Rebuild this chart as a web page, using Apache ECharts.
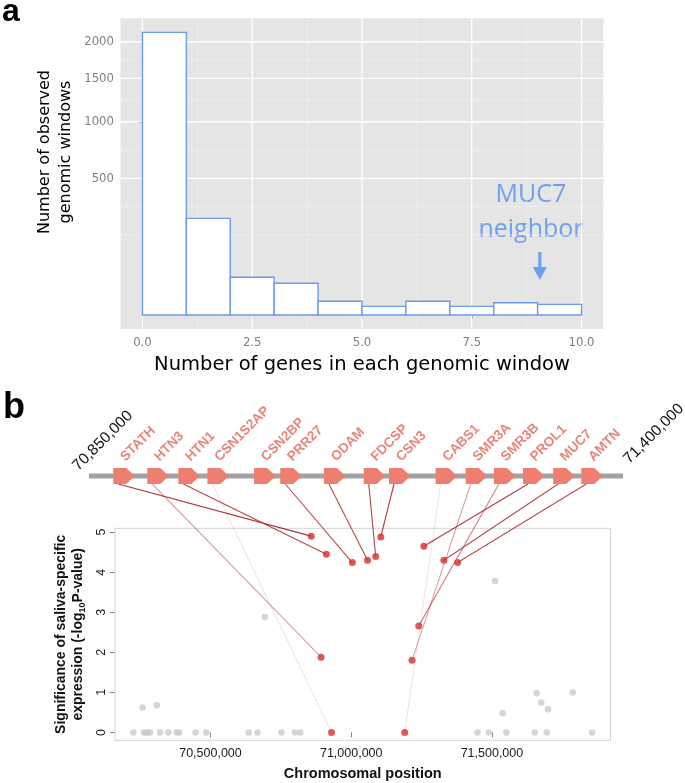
<!DOCTYPE html>
<html><head><meta charset="utf-8">
<script src="https://cdn.jsdelivr.net/npm/echarts@6.0.0/dist/echarts.min.js"></script>
<style>html,body{margin:0;padding:0;background:#fff}#c{width:685px;height:783px}</style>
</head><body><div id="c"></div><script>
// ---------- Panel a : histogram ----------
const binStarts = [0, 1, 2, 3, 4, 5, 6, 7, 8, 9];
const binWidth = 1;
const windowCounts = [2140, 250, 38, 27, 5, 2, 5, 2, 4, 3];
const histXTicks = [0, 2.5, 5, 7.5, 10];
const histXMinor = [1.25, 3.75, 6.25, 8.75];
const histYTicks = [500, 1000, 1500, 2000];

// ---------- Panel b : gene track + scatter ----------
const geneNames = ['STATH','HTN3','HTN1','CSN1S2AP','CSN2BP','PRR27','ODAM','FDCSP','CSN3','CABS1','SMR3A','SMR3B','PROL1','MUC7','AMTN'];
const geneTrackPos = [70875000, 70910000, 70942000, 70972000, 71020000, 71047000, 71092000, 71133000, 71159000, 71207000, 71238000, 71267000, 71297000, 71328000, 71357000];
const trackRange = [70850000, 71400000];
const trackLabels = ['70,850,000', '71,400,000'];
const genePointPos = [70858000, 70893000, 70912000, 70930000, null, 71004000, 71058000, 71087000, 71105000, 71190000, 71216000, 71240000, 71258000, 71329000, 71378000];
const genePointSig = [4.90, 1.88, 4.45, 0, null, 4.24, 4.30, 4.39, 4.88, 0, 1.80, 2.66, 4.65, 4.30, 4.24];
const otherPos = [70226000, 70259000, 70264000, 70271000, 70278000, 70285000, 70309000, 70321000, 70350000, 70380000, 70389000, 70447000, 70485000, 70636000, 70667000, 70693000, 70752000, 70800000, 70819000,
                  71449000, 71489000, 71511000, 71538000, 71551000, 71652000, 71659000, 71675000, 71695000, 71699000, 71787000, 71856000];
const otherSig = [0, 0.62, 0, 0, 0, 0, 0.68, 0, 0, 0, 0, 0, 0, 0, 0, 2.88, 0, 0, 0,
                  0, 0, 3.78, 0.48, 0, 0, 0.98, 0.75, 0, 0.58, 1.0, 0];
const posTicks = [70500000, 71000000, 71500000];
const sigTicks = [0, 1, 2, 3, 4, 5];

// ---------- derived scales ----------
const sq = Math.sqrt;
const maxC = Math.max(...windowCounts);
const yHi = sq(maxC) * 1.05, yLo = -sq(maxC) * 0.05;
const majT = histYTicks.map(sq);
const bd = majT[1] - majT[0];
const extT = [majT[0] - bd, ...majT, majT[majT.length - 1] + bd];
const minT = [];
for (let i = 0; i < extT.length - 1; i++) {
  if (i === 0) minT.push(extT[0]);
  minT.push((extT[i] + extT[i + 1]) / 2);
}
const minTv = minT.filter(v => v > yLo && v < yHi);

const allX = otherPos.concat(genePointPos.filter(v => v != null));
const allY = otherSig.concat(genePointSig.filter(v => v != null));
const xMin = Math.min(...allX), xMax = Math.max(...allX);
const yMin = Math.min(...allY), yMax = Math.max(...allY);
const sx0 = xMin - 0.04 * (xMax - xMin), sx1 = xMax + 0.04 * (xMax - xMin);
const sy0 = yMin - 0.04 * (yMax - yMin), sy1 = yMax + 0.04 * (yMax - yMin);

const gridData = [];
histXTicks.forEach(v => gridData.push(['x', v, 1]));
histXMinor.forEach(v => gridData.push(['x', v, 0]));
majT.forEach(v => gridData.push(['y', v, 1]));
minTv.forEach(v => gridData.push(['y', v, 0]));

const tickFont = "'Liberation Sans Narrow','DejaVu Sans Condensed',sans-serif";

const chart = echarts.init(document.getElementById('c'), null, { renderer: 'canvas' });
const option = {
  animation: false,
  backgroundColor: '#ffffff',
  grid: [
    { left: 120.5, top: 18.2, width: 483, height: 310.9, show: true, backgroundColor: '#e5e5e5', borderWidth: 0 },
    { left: 89, top: 467.5, width: 534, height: 17, show: false },
    { left: 115, top: 528.3, width: 495.5, height: 212, show: true, backgroundColor: 'transparent', borderColor: '#d4d4d4', borderWidth: 1 }
  ],
  xAxis: [
    { gridIndex: 0, type: 'value', min: -0.5, max: 10.5,
      axisLine: { show: false }, splitLine: { show: false },
      axisTick: { show: true, customValues: histXTicks, length: 4, lineStyle: { color: '#7f7f7f' } },
      axisLabel: { customValues: histXTicks, formatter: v => v.toFixed(1), color: '#7f7f7f', fontSize: 13, margin: 7, fontFamily: tickFont },
      name: 'Number of genes in each genomic window', nameLocation: 'middle', nameGap: 26,
      nameTextStyle: { fontSize: 19.5, color: '#000', fontFamily: "'DejaVu Sans',sans-serif" } },
    { gridIndex: 1, type: 'value', min: trackRange[0], max: trackRange[1], show: false },
    { gridIndex: 2, type: 'value', min: sx0, max: sx1,
      axisLine: { show: false }, splitLine: { show: false },
      axisTick: { show: true, customValues: posTicks, length: 5, lineStyle: { color: '#8a8a8a' } },
      axisLabel: { customValues: posTicks, formatter: v => Math.round(v).toLocaleString('en-US'), color: '#1a1a1a', fontSize: 12.5, margin: 7, fontFamily: "'Liberation Sans',Arial,sans-serif" },
      name: 'Chromosomal position', nameLocation: 'middle', nameGap: 26,
      nameTextStyle: { fontSize: 14.5, fontWeight: 'bold', color: '#111', fontFamily: "'Liberation Sans',Arial,sans-serif" } }
  ],
  yAxis: [
    { gridIndex: 0, type: 'value', min: yLo, max: yHi,
      axisLine: { show: false }, splitLine: { show: false },
      axisTick: { show: true, customValues: majT, length: 4, lineStyle: { color: '#7f7f7f' } },
      axisLabel: { customValues: majT, formatter: v => String(Math.round(v * v)), color: '#7f7f7f', fontSize: 13, margin: 6.5, fontFamily: tickFont } },
    { gridIndex: 1, type: 'value', min: 0, max: 1, show: false },
    { gridIndex: 2, type: 'value', min: sy0, max: sy1,
      axisLine: { show: false }, splitLine: { show: false },
      axisTick: { show: true, customValues: sigTicks, length: 5, lineStyle: { color: '#8a8a8a' } },
      axisLabel: { customValues: sigTicks, rotate: 90, color: '#1a1a1a', fontSize: 12.5, margin: 7, fontFamily: "'Liberation Sans',Arial,sans-serif" },
      name: 'Significance of saliva-specific\nexpression (-log{sub|10}P-value)', nameLocation: 'middle', nameGap: 22,
      nameTextStyle: { fontSize: 14, fontWeight: 'bold', color: '#111', lineHeight: 17, fontFamily: "'Liberation Sans',Arial,sans-serif",
        rich: { sub: { fontSize: 9, fontWeight: 'bold', color: '#111', verticalAlign: 'bottom', fontFamily: "'Liberation Sans',Arial,sans-serif" } } } }
  ],
  series: [
    { // panel background grid lines (ggplot style)
      type: 'custom', xAxisIndex: 0, yAxisIndex: 0, z: 1, silent: true,
      data: gridData,
      renderItem: function (params, api) {
        const d = gridData[params.dataIndex];
        const cs = params.coordSys;
        const major = d[2] === 1;
        const style = { stroke: major ? '#ffffff' : '#f1f1f1', lineWidth: major ? 1.3 : 0.7 };
        if (d[0] === 'x') {
          const p = api.coord([d[1], 0]);
          return { type: 'line', shape: { x1: p[0], y1: cs.y, x2: p[0], y2: cs.y + cs.height }, style: style };
        }
        const p = api.coord([0, d[1]]);
        return { type: 'line', shape: { x1: cs.x, y1: p[1], x2: cs.x + cs.width, y2: p[1] }, style: style };
      }
    },
    { // histogram bars (sqrt-transformed counts)
      type: 'custom', xAxisIndex: 0, yAxisIndex: 0, z: 3, silent: true,
      data: binStarts.map((b, i) => [b, windowCounts[i]]),
      renderItem: function (params, api) {
        const x0 = api.value(0), v = api.value(1);
        const p0 = api.coord([x0, sq(v)]);
        const p1 = api.coord([x0 + binWidth, 0]);
        return { type: 'rect', shape: { x: p0[0], y: p0[1], width: p1[0] - p0[0], height: p1[1] - p0[1] },
                 style: { fill: '#ffffff', stroke: '#6c9be8', lineWidth: 1.4 } };
      }
    },
    { // chromosome backbone
      type: 'line', xAxisIndex: 1, yAxisIndex: 1, silent: true, showSymbol: false, z: 2,
      data: [[trackRange[0], 0.5], [trackRange[1], 0.5]],
      lineStyle: { color: '#a2a2a2', width: 5 }
    },
    { // gene arrows + names
      type: 'custom', xAxisIndex: 1, yAxisIndex: 1, z: 3, silent: true,
      data: geneTrackPos.map(p => [p, 0.5]),
      renderItem: function (params, api) {
        const c = api.coord([api.value(0), api.value(1)]);
        const x = c[0], y = c[1];
        return { type: 'group', children: [
          { type: 'polygon', shape: { points: [[x, y - 8], [x + 13, y - 8], [x + 21.5, y], [x + 13, y + 8], [x, y + 8]] },
            style: { fill: '#ee7e70' } },
          { type: 'text', x: x + 14.5, y: y - 12, rotation: Math.PI / 4,
            style: { text: geneNames[params.dataIndex], fill: '#e9857a', font: "bold 13.5px 'Liberation Sans',Arial,sans-serif", align: 'left', verticalAlign: 'bottom' } }
        ] };
      }
    },
    { // track end coordinates
      type: 'custom', xAxisIndex: 1, yAxisIndex: 1, z: 3, silent: true,
      data: trackRange.map(p => [p, 0.5]),
      renderItem: function (params, api) {
        const c = api.coord([api.value(0), api.value(1)]);
        const dx = params.dataIndex === 0 ? -8 : 9;
        const dy = params.dataIndex === 0 ? -2 : -9;
        return { type: 'text', x: c[0] + dx, y: c[1] + dy, rotation: Math.PI / 4,
                 style: { text: trackLabels[params.dataIndex], fill: '#111', font: "15.5px 'Liberation Sans',Arial,sans-serif", align: 'left', verticalAlign: 'bottom' } };
      }
    },
    { // other genes
      type: 'scatter', xAxisIndex: 2, yAxisIndex: 2, z: 3, silent: true,
      data: otherPos.map((x, i) => [x, otherSig[i]]),
      symbolSize: 6.5, itemStyle: { color: '#cacaca' }
    },
    { // saliva genes
      type: 'scatter', xAxisIndex: 2, yAxisIndex: 2, z: 4, silent: true,
      data: genePointPos.map((x, i) => [x, genePointSig[i]]).filter(d => d[0] != null),
      symbolSize: 7, itemStyle: { color: '#d3302c' }
    }
  ],
  graphic: []
};
chart.setOption(option);

// connecting lines from gene arrows to their points (pixel positions via the chart's own scales)
const connectors = [];
geneNames.forEach((g, i) => {
  if (genePointPos[i] == null) return;
  const a = chart.convertToPixel({ xAxisIndex: 1, yAxisIndex: 1 }, [geneTrackPos[i], 0.5]);
  const b = chart.convertToPixel({ xAxisIndex: 2, yAxisIndex: 2 }, [genePointPos[i], genePointSig[i]]);
  connectors.push({ type: 'line', z: 2, silent: true,
    shape: { x1: a[0] + 5, y1: a[1] + 8, x2: b[0], y2: b[1] },
    style: { stroke: '#a8282c', lineWidth: 1.1, opacity: 0.13 + 0.165 * genePointSig[i] } });
});
const arrowX = chart.convertToPixel({ xAxisIndex: 0, yAxisIndex: 0 }, [9.05, 0])[0];
connectors.push(
  { type: 'text', left: 2, top: -4, style: { text: 'a', font: "bold 32px 'Liberation Sans',Arial,sans-serif", fill: '#000' } },
  { type: 'text', left: 3, top: 390, style: { text: 'b', font: "bold 36px 'Liberation Sans',Arial,sans-serif", fill: '#000' } },
  { type: 'text', x: 55, y: 152, rotation: Math.PI / 2,
    style: { text: 'Number of observed\ngenomic windows', font: "16px 'DejaVu Sans',sans-serif", fill: '#000', align: 'center', verticalAlign: 'middle', lineHeight: 21 } },
  { type: 'text', x: 531, y: 212, style: { text: 'MUC7\nneighbor', font: "25px 'Open Sans',sans-serif", fill: '#6fa0ef', align: 'center', verticalAlign: 'middle', lineHeight: 35 } },
  { type: 'rect', shape: { x: arrowX - 1.6, y: 252, width: 3.2, height: 16 }, style: { fill: '#6fa0ef' } },
  { type: 'polygon', shape: { points: [[arrowX - 7, 267], [arrowX + 7, 267], [arrowX, 280]] }, style: { fill: '#6fa0ef' } }
);
chart.setOption({ graphic: connectors });
</script></body></html>
